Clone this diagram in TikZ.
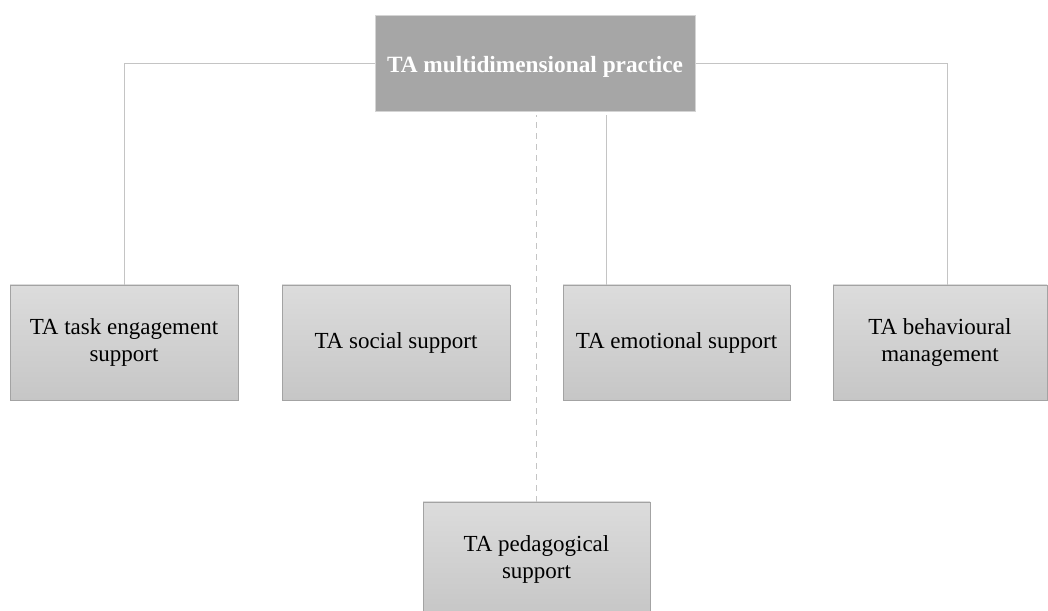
\documentclass[tikz,border=0pt]{standalone}
\usepackage{fontspec}
\setmainfont{Liberation Serif}
\usepackage{xcolor}
\usepackage{tikz}
\usetikzlibrary{positioning,calc}
\definecolor{headgray}{HTML}{A6A6A6}
\definecolor{headline}{HTML}{D4D4D4}
\definecolor{boxtop}{HTML}{DCDCDC}
\definecolor{boxbottom}{HTML}{C6C6C6}
\definecolor{boxline}{HTML}{A3A3A3}
\definecolor{linkgray}{HTML}{C4C4C4}
\tikzset{
  headbox/.style={rectangle, fill=headgray, draw=headline, line width=1pt, text=white, align=center, font=\fontsize{23.3}{27}\selectfont\bfseries, minimum width=320, minimum height=96},
  dimbox/.style={rectangle, top color=boxtop, bottom color=boxbottom, draw=boxline, line width=0.8pt, align=center, font=\fontsize{23}{27.5}\selectfont, minimum height=115},
  link/.style={draw=linkgray, line width=1pt},
  dashedlink/.style={draw=linkgray, line width=1pt, dash pattern=on 6pt off 5pt}
}
\begin{document}
\begin{tikzpicture}[x=1pt,y=1pt]
  \useasboundingbox (0,0) rectangle (1048,610);
  \fill[white] (0,0) rectangle (1048,610);

  \node[headbox] (practice) at (535,546) {};
  \node[text=white, font=\fontsize{23.3}{27}\selectfont\bfseries] (practicetext) at ([yshift=-3]practice.center) {TA multidimensional practice};

  \node[dimbox, minimum width=228] (task) at (124,267.5) {TA task engagement\\support};
  \node[dimbox, minimum width=228] (social) at (396,267.5) {TA social support};
  \node[dimbox, minimum width=227] (emotional) at (676.5,267.5) {TA emotional support};
  \node[dimbox, minimum width=214] (behaviour) at (940,267.5) {TA behavioural\\management};
  \node[dimbox, minimum width=227] (pedagogy) at (536.5,50.5) {TA pedagogical\\support};

  \draw[link] (practice.west) -| (task.north);
  \draw[link] (practice.east) -| ([xshift=7]behaviour.north);
  \draw[link] ([xshift=44]emotional.north west) -- ([xshift=44,yshift=-3]emotional.north west |- practice.south);
  \draw[dashedlink] (pedagogy.north) -- ([yshift=-3]pedagogy.north |- practice.south);
\end{tikzpicture}
\end{document}
